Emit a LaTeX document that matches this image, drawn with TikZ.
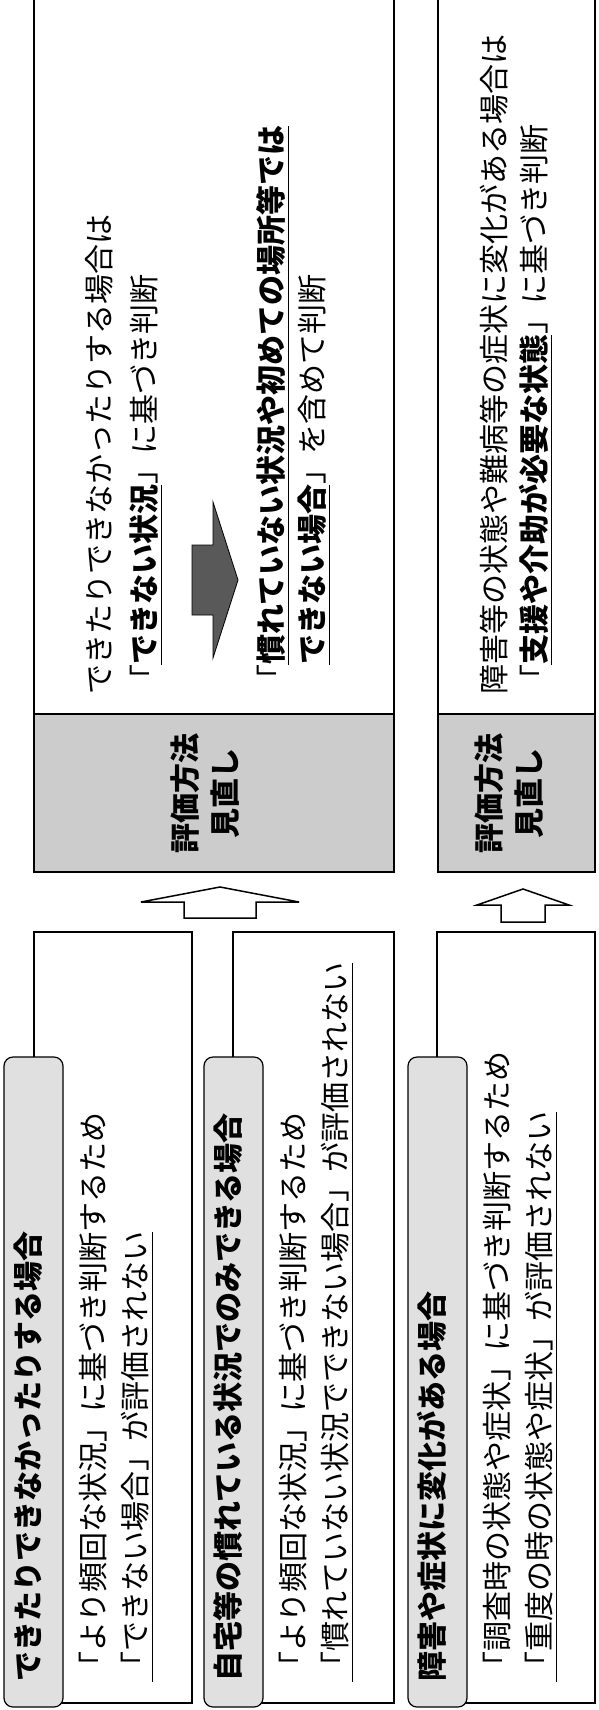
\documentclass[tikz,border=0pt]{standalone}
\usepackage{fontspec}
\setmainfont{Noto Sans CJK JP}
\newcommand\myU[1]{\underline{\smash{#1}\rule[-0.14em]{0pt}{0.86em}}}
\newcommand\myBU[1]{\textbf{\myU{#1}}}
\begin{document}
\begin{tikzpicture}[x=1pt,y=-1pt,
  frame/.style={draw=black, line width=1.6pt},
  lbl/.style={draw=black, line width=1.2pt, fill=black!12, rounded corners=9pt},
  shade/.style={draw=black, line width=1.6pt, fill=black!20},
  txt/.style={rotate=90, anchor=west, inner sep=0pt, text height=0.88em, text depth=0.12em, font=\fontsize{30}{30}\selectfont},
  ttl/.style={txt, font=\fontsize{30}{30}\selectfont\bfseries},
  harrow/.style={draw=black, line width=1.5pt, fill=white},
  darrow/.style={draw=black, line width=0.8pt, fill=black!65}]
\useasboundingbox (0,0) rectangle (599,1710);
\clip (0,0) rectangle (599,1710);

% ---------- left case boxes ----------
\draw[frame] (34,932) rectangle (192,1703);
\draw[lbl] (4,1057) rectangle (63,1707);
\node[ttl] (t1) at (36,1682) {できたりできなかったりする場合};
\node[txt] (a1) at (101,1682) {「より頻回な状況」に基づき判断するため};
\node[txt] (b1) at (143,1682) {\myU{「できない場合」が評価されない}};

\draw[frame] (233,932) rectangle (394,1703);
\draw[lbl] (204,1057) rectangle (263,1707);
\node[ttl] (t2) at (236,1682) {自宅等の慣れている状況でのみできる場合};
\node[txt] (a2) at (301,1682) {「より頻回な状況」に基づき判断するため};
\node[txt] (b2) at (343,1682) {\myU{「慣れていない状況でできない場合」が評価されない}};

\draw[frame] (437,932) rectangle (595,1703);
\draw[lbl] (408,1057) rectangle (467,1707);
\node[ttl] (t3) at (440,1682) {障害や症状に変化がある場合};
\node[txt] (a3) at (505,1682) {「調査時の状態や症状」に基づき判断するため};
\node[txt] (b3) at (547,1682) {\myU{「重度の時の状態や症状」が評価されない}};

% ---------- hollow arrows ----------
\coordinate (h1) at (220,887);
\coordinate (h2) at (523,889);
\draw[harrow] (184,918) -- (184,902) -- (141,902) -- (h1) -- (299,902) -- (256,902) -- (256,918) -- cycle;
\draw[harrow] (501,922) -- (501,905) -- (477,905) -- (h2) -- (569,905) -- (545,905) -- (545,922) -- cycle;

% ---------- right boxes ----------
\draw[frame] (34,-20) rectangle (394,872);
\draw[shade] (34,714) rectangle (394,872);
\node[ttl, anchor=center] (m1) at (193,793) {評価方法};
\node[ttl, anchor=center] (n1) at (233,793) {見直し};
\node[txt] (r1) at (107,695) {できたりできなかったりする場合は};
\node[txt] (r2) at (152,695) {「\myBU{できない状況}」に基づき判断};
\draw[darrow] (192,545) -- (213,545) -- (213,502) -- (238,580) -- (213,658) -- (213,615) -- (192,615) -- cycle;
\node[txt] (r3) at (279,695) {「\myBU{慣れていない状況や初めての場所等では}};
\node[txt] (r4) at (320,665) {\myBU{できない場合}」を含めて判断};

\draw[frame] (438,-20) rectangle (595,872);
\draw[shade] (438,714) rectangle (595,872);
\node[ttl, anchor=center] (m2) at (497,793) {評価方法};
\node[ttl, anchor=center] (n2) at (537,793) {見直し};
\node[txt] (s1) at (502,695) {障害等の状態や難病等の症状に変化がある場合は};
\node[txt] (s2) at (542,695) {「\myBU{支援や介助が必要な状態}」に基づき判断};
\end{tikzpicture}
\end{document}
